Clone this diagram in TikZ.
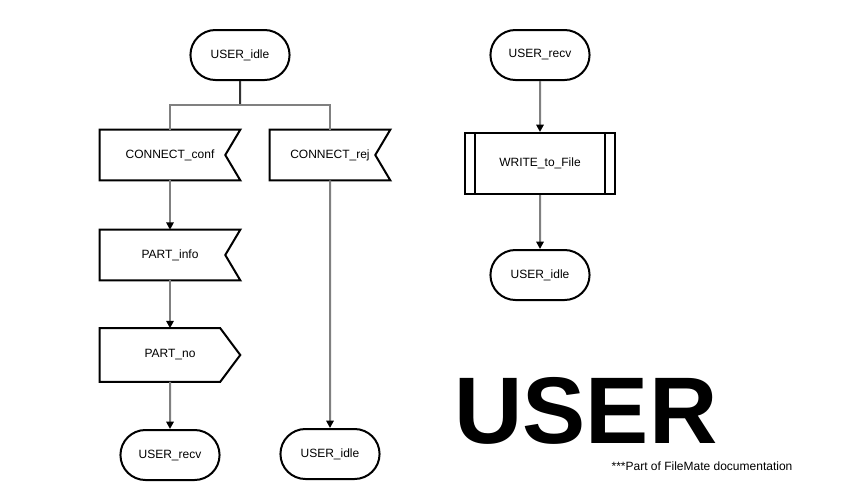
\documentclass[tikz,border=0pt]{standalone}
\usepackage{fontspec}
\setmainfont{Liberation Sans}
\usetikzlibrary{shapes.misc,arrows.meta}

\begin{document}
\begin{tikzpicture}[x=0.75pt, y=-0.75pt, node distance={75pt}, font=\fontsize{9}{11}\selectfont,
	state/.style = {draw, line width=1.5pt, rounded rectangle, minimum width=81pt, minimum height=37.5pt},
	inp/.style = {rectangle, minimum width=#1, minimum height=37.5pt,
		append after command={\pgfextra{\draw[line width=1.5pt, line join=miter] (\tikzlastnode.north west) -- (\tikzlastnode.north east)
			-- ([xshift=-11.25pt]\tikzlastnode.east) -- (\tikzlastnode.south east) -- (\tikzlastnode.south west) -- cycle;}}},
	outp/.style = {rectangle, minimum width=#1, minimum height=39.75pt,
		append after command={\pgfextra{\draw[line width=1.5pt, line join=miter] (\tikzlastnode.north west) -- ([xshift=-15pt]\tikzlastnode.north east)
			-- (\tikzlastnode.east) -- ([xshift=-15pt]\tikzlastnode.south east) -- (\tikzlastnode.south west) -- cycle;}}},
	pproc/.style = {draw, line width=1.5pt, rectangle, minimum width=112.5pt, minimum height=45.75pt,
		path picture={\draw[line width=1.5pt] ([xshift=7.5pt]path picture bounding box.north west) -- ([xshift=7.5pt]path picture bounding box.south west);
			\draw[line width=1.5pt] ([xshift=-7.5pt]path picture bounding box.north east) -- ([xshift=-7.5pt]path picture bounding box.south east);}},
	conn/.style = {draw=gray, line width=1.5pt},
	arr/.style = {conn, -{Triangle[width=5.5pt, length=5.5pt, color=black]}}]
	\useasboundingbox (0,0) rectangle (854,500);
	% left part
	\node[state] (1) at (240,55) {USER\_idle};
	\coordinate (j) at (240,105);
	\node[inp=105pt] (2) at (170,155) {CONNECT\_conf};
	\node[inp=90pt] (3) at (330,155) {CONNECT\_rej};
	\node[inp=105pt] (4) [below of=2] {PART\_info};
	\node[outp=105pt] (5) [below of=4] {PART\_no\hspace{12pt}};
	\node[state] (6) [below of=5] {USER\_recv};
	\node[state] (7) at (330,454) {USER\_idle};
	\draw[line width=1.5pt, draw=black!80] (1) -- (j);
	\draw[conn] (2) |- (j) -| (3);
	\draw[arr] (2) -- (4);
	\draw[arr] (4) -- (5);
	\draw[arr] (5) -- (6);
	\draw[arr] (3) -- (7);
	% right part
	\node[state] (8) at (540,55) {USER\_recv};
	\node[pproc] (9) at (540,163.5) {WRITE\_to\_File};
	\node[state] (10) at (540,275) {USER\_idle};
	\draw[arr] (8) -- (9);
	\draw[arr] (9) -- (10);
	% title
	\node[inner sep=0pt, font=\fontsize{71}{71}\selectfont\bfseries] (11) at (586,411) {USER};
	\node[inner sep=0pt] (12) at (702,466) {***Part of FileMate documentation};
\end{tikzpicture}
\end{document}
